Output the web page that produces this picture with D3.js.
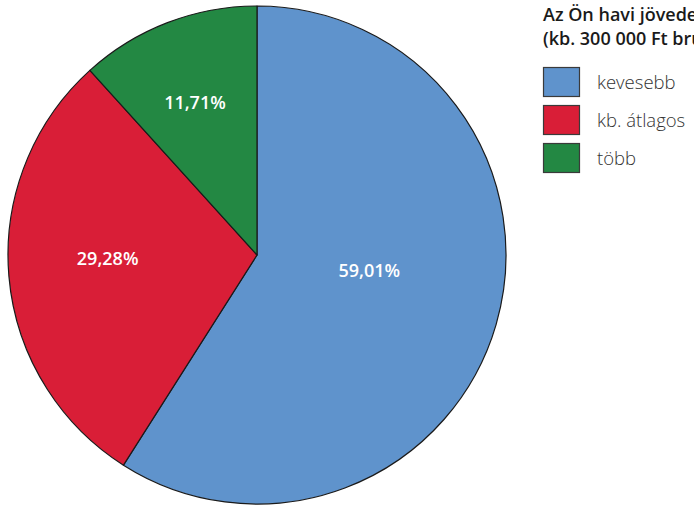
<!DOCTYPE html>
<html>
<head>
<meta charset="utf-8">
<script src="https://cdn.jsdelivr.net/npm/d3@7"></script>
<style>
  html, body { margin: 0; padding: 0; background: #ffffff; overflow: hidden; }
  svg { display: block; font-family: "Open Sans", "Noto Sans", sans-serif; }
</style>
</head>
<body>
<svg id="chart" width="694" height="505"></svg>
<script>
// ---- data ----
const categories = ["kevesebb", "kb. átlagos", "több"];
const values = [59.01, 29.28, 11.71];
const valueLabels = ["59,01%", "29,28%", "11,71%"];
const colors = ["#5f93cc", "#d91e37", "#238843"];
const titleLines = ["Az Ön havi jövedelme", "(kb. 300 000 Ft bruttó)"];

// ---- layout ----
const W = 694, H = 505;
const cx = 257, cy = 255, R = 249;
// label placement: [radius fraction, angle shift in degrees] per slice
const labelLayout = [[0.455, -8.5], [0.60, 3.7], [0.663, -1.0]];

const svg = d3.select("#chart");

const pie = d3.pie().sort(null).value(d => d)(values);
const arc = d3.arc().innerRadius(0).outerRadius(R);

const g = svg.append("g").attr("transform", `translate(${cx},${cy})`);

g.selectAll("path.slice")
  .data(pie)
  .join("path")
  .attr("class", "slice")
  .attr("d", arc)
  .attr("fill", (d, i) => colors[i])
  .attr("stroke", "#1a1a1a")
  .attr("stroke-width", 1.2)
  .attr("stroke-linejoin", "round");

g.selectAll("text.lbl")
  .data(pie)
  .join("text")
  .attr("class", "lbl")
  .attr("x", (d, i) => {
    const a = (d.startAngle + d.endAngle) / 2 + labelLayout[i][1] * Math.PI / 180;
    return Math.sin(a) * R * labelLayout[i][0];
  })
  .attr("y", (d, i) => {
    const a = (d.startAngle + d.endAngle) / 2 + labelLayout[i][1] * Math.PI / 180;
    return -Math.cos(a) * R * labelLayout[i][0];
  })
  .attr("text-anchor", "middle")
  .attr("dy", "0.36em")
  .attr("fill", "#ffffff")
  .attr("font-size", 18)
  .attr("font-weight", 600)
  .text((d, i) => valueLabels[i]);

// ---- legend ----
const lg = svg.append("g");
lg.selectAll("text.title")
  .data(titleLines)
  .join("text")
  .attr("class", "title")
  .attr("x", 543)
  .attr("y", (d, i) => 21 + i * 23.5)
  .attr("font-size", 18)
  .attr("font-weight", 600)
  .attr("fill", "#1a1a1a")
  .text(d => d);

const item = lg.selectAll("g.item")
  .data(categories)
  .join("g")
  .attr("class", "item")
  .attr("transform", (d, i) => `translate(543, ${67 + i * 38})`);

item.append("rect")
  .attr("x", 0.5).attr("y", 0.5)
  .attr("width", 36).attr("height", 29)
  .attr("fill", (d, i) => colors[i])
  .attr("stroke", "#3a3a3a")
  .attr("stroke-width", 1.2);

item.append("text")
  .attr("x", 54)
  .attr("y", 21.5)
  .attr("font-size", 18.5)
  .attr("font-weight", 300)
  .attr("fill", "#333333")
  .text(d => d);
</script>
</body>
</html>
